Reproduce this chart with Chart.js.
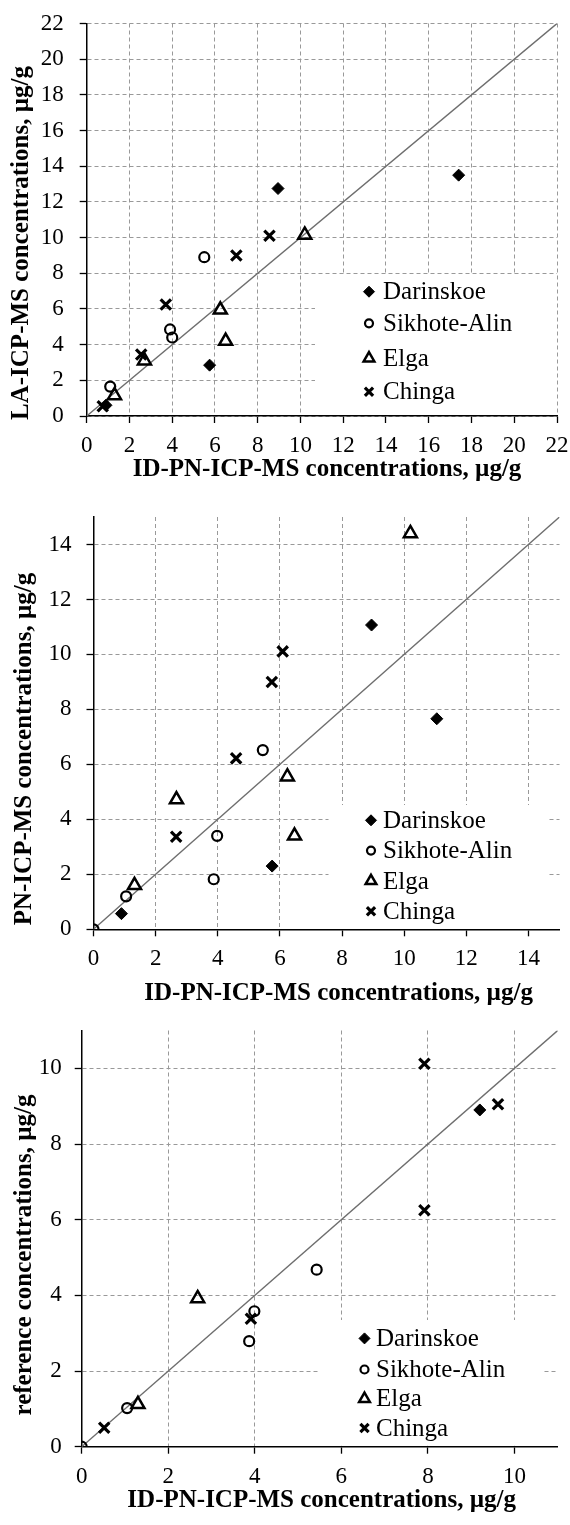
<!DOCTYPE html>
<html>
<head>
<meta charset="utf-8">
<script src="https://cdn.jsdelivr.net/npm/chart.js@4.4.1/dist/chart.umd.min.js"></script>
<style>
  body { margin: 0; background: #fff; }
  canvas.plot { position: absolute; left: 0; }
</style>
</head>
<body>
<canvas id="chart-la" class="plot" width="570" height="500" style="top:0px"></canvas>
<canvas id="chart-pn" class="plot" width="570" height="520" style="top:500px"></canvas>
<canvas id="chart-ref" class="plot" width="570" height="505" style="top:1020px"></canvas>
<script>
const seriesNames = ["Darinskoe", "Sikhote-Alin", "Elga", "Chinga"];

// chart 1: LA-ICP-MS vs ID-PN-ICP-MS
const laDarinskoeX = [0.9, 5.75, 8.95, 17.4];
const laDarinskoeY = [0.6, 2.85, 12.75, 13.5];
const laSikhoteX = [1.1, 3.9, 4.0, 5.5];
const laSikhoteY = [1.65, 4.85, 4.4, 8.9];
const laElgaX = [1.3, 2.7, 6.25, 6.5, 10.2];
const laElgaY = [1.15, 3.1, 5.95, 4.2, 10.15];
const laChingaX = [0.75, 2.55, 3.7, 7.0, 8.55];
const laChingaY = [0.55, 3.45, 6.25, 9.0, 10.1];
const laTicks = [0, 2, 4, 6, 8, 10, 12, 14, 16, 18, 20, 22];
const laMax = 22;

// chart 2: PN-ICP-MS vs ID-PN-ICP-MS
const pnDarinskoeX = [0.9, 5.75, 8.95, 11.05];
const pnDarinskoeY = [0.57, 2.3, 11.07, 7.66];
const pnSikhoteX = [0, 1.05, 3.87, 3.98, 5.45];
const pnSikhoteY = [0, 1.2, 1.82, 3.4, 6.52];
const pnElgaX = [1.32, 2.67, 6.24, 6.47, 10.2];
const pnElgaY = [1.6, 4.72, 5.55, 3.4, 14.4];
const pnChingaX = [2.66, 4.59, 5.74, 6.09];
const pnChingaY = [3.37, 6.22, 9.0, 10.11];
const pnTicks = [0, 2, 4, 6, 8, 10, 12, 14];
const pnMax = 15;

// chart 3: reference vs ID-PN-ICP-MS
const refDarinskoeX = [9.2];
const refDarinskoeY = [8.9];
const refSikhoteX = [0, 1.05, 3.87, 3.99, 5.43];
const refSikhoteY = [0, 1.02, 2.79, 3.58, 4.68];
const refElgaX = [1.3, 2.68];
const refElgaY = [1.12, 3.92];
const refChingaX = [0.52, 3.91, 7.92, 7.92, 9.62];
const refChingaY = [0.5, 3.38, 6.25, 10.12, 9.05];
const refTicks = [0, 2, 4, 6, 8, 10];
const refMax = 11;

const xTitle = "ID-PN-ICP-MS concentrations, \u00b5g/g";
const family = "'Liberation Serif', 'Times New Roman', serif";

const markers = [
  { pointStyle: 'rectRot', radius: 6, legendRadius: 5.5, fill: '#000', width: 1 },
  { pointStyle: 'circle', radius: 5, legendRadius: 4, fill: 'rgba(0,0,0,0)', width: 2.2 },
  { pointStyle: 'triangle', radius: 7.5, legendRadius: 6.2, fill: 'rgba(0,0,0,0)', width: 2.5 },
  { pointStyle: 'crossRot', radius: 7.3, legendRadius: 5.8, fill: '#000', width: 3.2 }
];

function toPoints(xs, ys) {
  return xs.map((x, i) => ({ x: x, y: ys[i] }));
}

// white legend box drawn over the grid, plus axis titles
const overlay = {
  id: 'overlay',
  beforeDatasetsDraw(chart, args, o) {
    const ctx = chart.ctx;
    ctx.save();
    ctx.fillStyle = '#fff';
    ctx.fillRect(o.box[0], o.box[1], o.box[2], o.box[3]);
    ctx.font = '25px ' + family;
    ctx.textBaseline = 'middle';
    seriesNames.forEach((name, i) => {
      const m = markers[i];
      const y = o.rows[i];
      ctx.fillStyle = m.fill;
      ctx.strokeStyle = '#000';
      ctx.lineWidth = m.width;
      Chart.helpers.drawPoint(ctx, { pointStyle: m.pointStyle, radius: m.legendRadius, rotation: 0, borderWidth: m.width }, o.markX, y);
      ctx.fillStyle = '#000';
      ctx.fillText(name, o.textX, y + 1);
    });
    ctx.restore();
  },
  afterDraw(chart, args, o) {
    const ctx = chart.ctx;
    ctx.save();
    ctx.fillStyle = '#000';
    ctx.font = 'bold 25px ' + family;
    ctx.textAlign = 'center';
    ctx.textBaseline = 'middle';
    ctx.fillText(xTitle, o.xTitle[0], o.xTitle[1]);
    ctx.translate(o.yTitle[0], o.yTitle[1]);
    ctx.rotate(-Math.PI / 2);
    ctx.fillText(o.yText, 0, 0);
    ctx.restore();
  }
};

function axis(tickList, max, isX, size, pad) {
  return {
    type: 'linear',
    min: 0,
    max: max,
    afterBuildTicks: s => { s.ticks = tickList.map(v => ({ value: v })); },
    afterFit: s => {
      if (isX) { s.height = size; s.paddingLeft = 0; s.paddingRight = 0; }
      else { s.width = size; s.paddingTop = 0; s.paddingBottom = 0; }
    },
    grid: { color: '#999', lineWidth: 1, tickColor: '#000', tickLength: 7, tickWidth: 1.3 },
    border: { color: '#000', width: 1.5, dash: [4, 3] },
    ticks: { color: '#000', padding: pad, autoSkip: false, maxRotation: 0, font: { family: family, size: 23 } }
  };
}

function makeChart(id, series, max, tickList, geo) {
  const datasets = series.map((s, i) => ({
    label: seriesNames[i],
    data: toPoints(s[0], s[1]),
    pointStyle: markers[i].pointStyle,
    pointRadius: markers[i].radius,
    pointBackgroundColor: markers[i].fill,
    pointBorderColor: '#000',
    pointBorderWidth: markers[i].width,
    order: 1
  }));
  datasets.push({
    type: 'line',
    label: '1:1',
    data: [{ x: 0, y: 0 }, { x: max, y: max }],
    showLine: true,
    borderColor: '#6e6e6e',
    borderWidth: 1.4,
    pointRadius: 0,
    fill: false,
    order: 10
  });
  return new Chart(document.getElementById(id), {
    type: 'scatter',
    data: { datasets: datasets },
    plugins: [overlay],
    options: {
      responsive: false,
      animation: false,
      devicePixelRatio: 1,
      layout: { padding: { left: 0, right: geo.right, top: geo.top, bottom: 0 } },
      scales: {
        x: axis(tickList, max, true, geo.xHeight, geo.xPad),
        y: axis(tickList, max, false, geo.yWidth, geo.yPad)
      },
      plugins: {
        legend: { display: false },
        tooltip: { enabled: false },
        overlay: geo.overlay
      }
    }
  });
}

makeChart('chart-la',
  [[laDarinskoeX, laDarinskoeY], [laSikhoteX, laSikhoteY], [laElgaX, laElgaY], [laChingaX, laChingaY]],
  laMax, laTicks,
  { right: 13, top: 23.5, xHeight: 84, yWidth: 86.7, xPad: 9, yPad: 16,
    overlay: { box: [315, 274.5, 242, 140.5], markX: 369, textX: 383, rows: [291.7, 323.3, 358.3, 391.7],
      xTitle: [327, 470], yTitle: [22, 243], yText: "LA-ICP-MS concentrations, \u00b5g/g" } });

makeChart('chart-pn',
  [[pnDarinskoeX, pnDarinskoeY], [pnSikhoteX, pnSikhoteY], [pnElgaX, pnElgaY], [pnChingaX, pnChingaY]],
  pnMax, pnTicks,
  { right: 5, top: 17, xHeight: 90.7, yWidth: 93.5, xPad: 9, yPad: 15,
    overlay: { box: [328.5, 305, 219.5, 123.5], markX: 371, textX: 383, rows: [320.3, 350.6, 381, 411.3],
      xTitle: [338.6, 494], yTitle: [25, 249], yText: "PN-ICP-MS concentrations, \u00b5g/g" } });

makeChart('chart-ref',
  [[refDarinskoeX, refDarinskoeY], [refSikhoteX, refSikhoteY], [refElgaX, refElgaY], [refChingaX, refChingaY]],
  refMax, refTicks,
  { right: 12.3, top: 8.7, xHeight: 78.3, yWidth: 81.7, xPad: 9.5, yPad: 13,
    overlay: { box: [320, 300, 224, 125.8], markX: 364.5, textX: 376, rows: [318.4, 349.5, 378.8, 408],
      xTitle: [321.7, 481], yTitle: [25, 235], yText: "reference concentrations, \u00b5g/g" } });
</script>
</body>
</html>
